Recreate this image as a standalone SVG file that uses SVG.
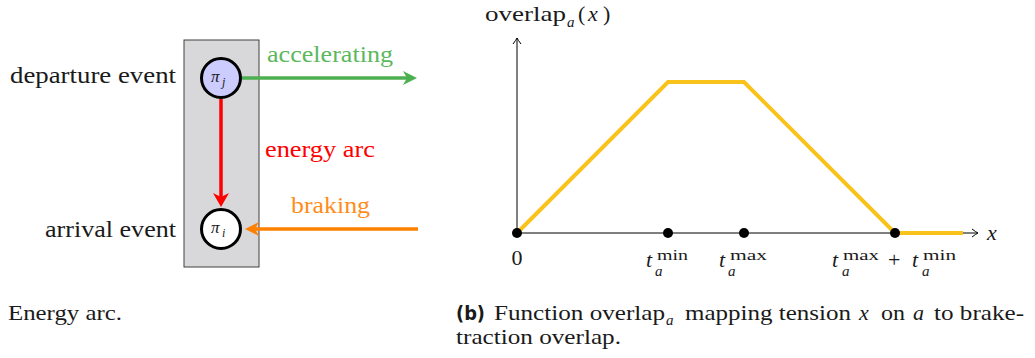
<svg xmlns="http://www.w3.org/2000/svg" width="1035" height="358" viewBox="0 0 1035 358" font-family="'Liberation Serif', 'DejaVu Serif', 'Noto Serif', Tinos, 'Nimbus Roman', FreeSerif, Times, serif">
<style>
text { font-family: 'Liberation Serif', 'DejaVu Serif', 'Noto Serif', Tinos, 'Nimbus Roman', FreeSerif, Times, serif; fill: #1a1a1a; }
.lbl { font-size: 23px; }
.cap { font-size: 22px; }
.it { font-style: italic; }
.math { font-size: 22px; }
.sup { font-size: 15px; }
.pi { font-size: 17px; font-style: italic; }
.pisub { font-size: 12px; font-style: italic; }
.node { stroke: #000; stroke-width: 3; }
.arr { fill: none; stroke-width: 3.5; }
.axis { fill: none; stroke: #000; stroke-width: 1; }
.dot { fill: #000; }
</style>
<defs>
<marker id="hg" viewBox="0 0 14 14" refX="4" refY="7" markerWidth="14" markerHeight="14" markerUnits="userSpaceOnUse" orient="auto"><path d="M0,0 L14,7 L0,14 L4,7 z" fill="#4caf50"/></marker>
<marker id="hr" viewBox="0 0 14 16" refX="4" refY="8" markerWidth="14" markerHeight="16" markerUnits="userSpaceOnUse" orient="auto"><path d="M0,0 L14,8 L0,16 L4,8 z" fill="#ff0000"/></marker>
<marker id="ho" viewBox="0 0 14 14" refX="4" refY="7" markerWidth="14" markerHeight="14" markerUnits="userSpaceOnUse" orient="auto"><path d="M0,0 L14,7 L0,14 L4,7 z" fill="#ff8000"/></marker>
<marker id="ha" viewBox="-7 -5 8 10" refX="0" refY="0" markerWidth="8" markerHeight="10" markerUnits="userSpaceOnUse" orient="auto"><path d="M-6,-4 Q-2,-1 0,0 Q-2,1 -6,4" fill="none" stroke="#000" stroke-width="1"/></marker>
</defs>

<g id="panel-a">
  <rect id="event-box" x="184" y="40" width="75" height="227" fill="#d8d8da" stroke="#404040" stroke-width="1"/>
  <g id="departure-label"><text class="lbl" x="10" y="83" textLength="166" lengthAdjust="spacingAndGlyphs">departure event</text></g>
  <g id="arrival-label"><text class="lbl" x="45" y="237" textLength="131" lengthAdjust="spacingAndGlyphs">arrival event</text></g>
  <g id="connectors">
    <line class="arr" x1="242" y1="78" x2="407" y2="78" stroke="#4caf50" marker-end="url(#hg)"/>
    <line class="arr" x1="221" y1="99" x2="221" y2="197" stroke="#ff0000" marker-end="url(#hr)"/>
    <line class="arr" x1="418" y1="229" x2="255" y2="229" stroke="#ff8000" marker-end="url(#ho)"/>
    <text class="lbl" x="267" y="62" textLength="126" lengthAdjust="spacingAndGlyphs" style="fill:#5cb85c">accelerating</text>
    <text class="lbl" x="265" y="157" textLength="110" lengthAdjust="spacingAndGlyphs" style="fill:#ff0000">energy arc</text>
    <text class="lbl" x="291" y="213" textLength="79" lengthAdjust="spacingAndGlyphs" style="fill:#ff8c1a">braking</text>
  </g>
  <g id="node-pi-j">
    <circle class="node" cx="221" cy="78" r="19.5" fill="#ccccff"/>
    <text class="pi" x="211" y="82">π</text><text class="pisub" x="222" y="86">j</text>
  </g>
  <g id="node-pi-i">
    <circle class="node" cx="221" cy="229" r="19.5" fill="#ffffff"/>
    <text class="pi" x="211" y="233">π</text><text class="pisub" x="222" y="237">i</text>
  </g>
  <text class="cap" x="8" y="320" textLength="114" lengthAdjust="spacingAndGlyphs">Energy arc.</text>
</g>

<g id="panel-b">
  <g id="axes">
    <line class="axis" x1="517" y1="233" x2="517" y2="38" marker-end="url(#ha)"/>
    <line class="axis" x1="517" y1="233" x2="978" y2="233" marker-end="url(#ha)"/>
  </g>
  <polyline id="overlap-curve" points="517,233 668,82 744,82 895,233 963,233" fill="none" stroke="#f9c31c" stroke-width="4" stroke-linejoin="miter"/>
  <g id="ticks">
    <circle class="dot" cx="517" cy="233" r="5"/>
    <circle class="dot" cx="668" cy="233" r="5"/>
    <circle class="dot" cx="744" cy="233" r="5"/>
    <circle class="dot" cx="895" cy="233" r="5"/>
  </g>
  <g id="y-label">
    <text class="math" x="485" y="21" textLength="81" lengthAdjust="spacingAndGlyphs">overlap</text>
    <text class="sup it" x="567" y="27">a</text>
    <text class="math" x="578" y="21">(</text>
    <text class="math it" x="588" y="21">x</text>
    <text class="math" x="603" y="21">)</text>
  </g>
  <text class="math it" x="987" y="240">x</text>
  <text class="math" x="517" y="265" text-anchor="middle">0</text>
  <g id="label-tmin">
    <text class="math it" x="646" y="267">t</text>
    <text class="sup" x="657" y="260" textLength="31" lengthAdjust="spacingAndGlyphs">min</text>
    <text class="sup it" x="655" y="276">a</text>
  </g>
  <g id="label-tmax">
    <text class="math it" x="719" y="267">t</text>
    <text class="sup" x="730" y="260" textLength="37" lengthAdjust="spacingAndGlyphs">max</text>
    <text class="sup it" x="728" y="276">a</text>
  </g>
  <g id="label-sum">
    <text class="math it" x="832" y="267">t</text>
    <text class="sup" x="843" y="260" textLength="36" lengthAdjust="spacingAndGlyphs">max</text>
    <text class="sup it" x="842" y="276">a</text>
    <text class="math" x="888" y="267">+</text>
    <text class="math it" x="912" y="267">t</text>
    <text class="sup" x="923" y="260" textLength="33" lengthAdjust="spacingAndGlyphs">min</text>
    <text class="sup it" x="922" y="276">a</text>
  </g>
  <g id="caption-b">
    <text x="456" y="320" style="font-family:'DejaVu Sans','Noto Sans',sans-serif;font-weight:bold;font-size:20px" textLength="29" lengthAdjust="spacingAndGlyphs">(b)</text>
    <text class="cap" x="494" y="320" textLength="171" lengthAdjust="spacingAndGlyphs">Function overlap</text>
    <text class="sup it" x="666" y="325">a</text>
    <text class="cap" x="685" y="320" textLength="166" lengthAdjust="spacingAndGlyphs">mapping tension</text>
    <text class="cap it" x="859" y="320">x</text>
    <text class="cap" x="881" y="320" textLength="24" lengthAdjust="spacingAndGlyphs">on</text>
    <text class="cap it" x="913" y="320">a</text>
    <text class="cap" x="934" y="320" textLength="90" lengthAdjust="spacingAndGlyphs">to brake-</text>
    <text class="cap" x="456" y="344" textLength="165" lengthAdjust="spacingAndGlyphs">traction overlap.</text>
  </g>
</g>
</svg>
